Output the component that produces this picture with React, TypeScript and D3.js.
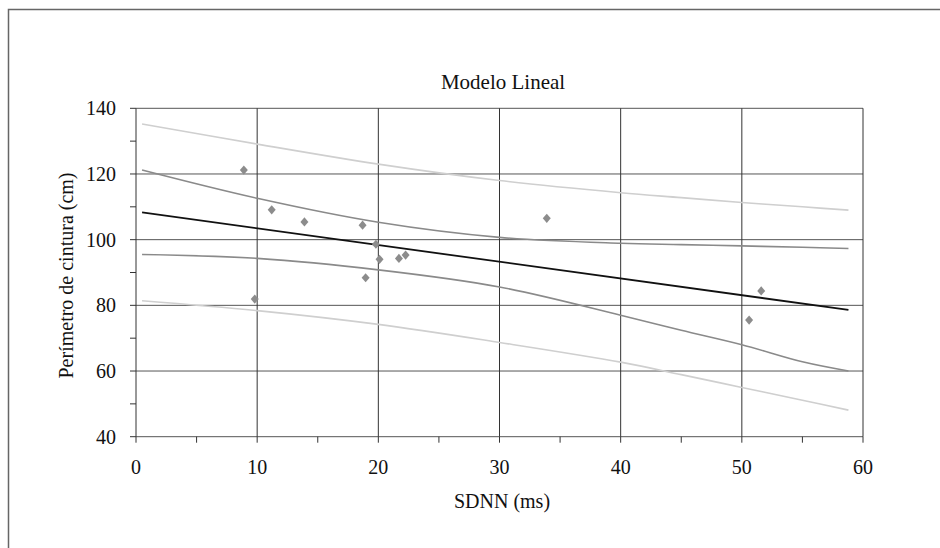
import React from 'react';
import * as d3 from 'd3';

// SDNN (ms) vs perímetro de cintura (cm)
const sdnn = [8.9, 9.8, 11.2, 13.9, 18.7, 18.95, 19.8, 20.1, 21.7, 22.25, 33.9, 50.6, 51.6];
const cintura = [121.2, 81.9, 109.1, 105.4, 104.4, 88.4, 98.6, 94.0, 94.3, 95.3, 106.5, 75.5, 84.4];

// regression line endpoints
const fitX = [0.5, 58.8];
const fitY = [108.3, 78.6];

// bands
const bandX = [0.5, 10, 20, 30, 40, 45, 50, 55, 58.8];
const predUpper = [135.2, 129.1, 123.0, 118.0, 114.3, 112.8, 111.3, 110.0, 109.0];
const confUpper = [121.2, 112.6, 105.3, 100.7, 98.9, 98.5, 98.1, 97.7, 97.3];
const confLower = [95.5, 94.3, 90.8, 85.6, 77.0, 72.4, 68.0, 62.8, 60.0];
const predLower = [81.4, 78.4, 74.2, 68.7, 62.7, 58.9, 55.0, 51.1, 48.1];

const xTicks = [0, 10, 20, 30, 40, 50, 60];
const xMinor = [5, 15, 25, 35, 45, 55];
const yTicks = [40, 60, 80, 100, 120, 140];
const yMinor = [50, 70, 90, 110, 130];

const W = 940;
const H = 548;

export default function App() {
  const x = d3.scaleLinear().domain([0, 60]).range([136, 863]);
  const y = d3.scaleLinear().domain([40, 140]).range([436.7, 108.3]);

  const curve = (ys: number[], xs: number[]) =>
    d3.line<number>()
      .x((_, i) => x(xs[i]))
      .y((d) => y(d))
      .curve(d3.curveCatmullRom.alpha(0.5))(ys) || '';

  const diamond = 'M0,-4.6L4,0L0,4.6L-4,0Z';

  return (
    <svg width={W} height={H} style={{ position: 'absolute', left: 0, top: 0, background: '#fff' }}>
      {/* outer frame */}
      <rect x={8.5} y={9.5} width={W + 20} height={H + 20} fill="none" stroke="#666" strokeWidth={1.5} />

      {/* grid */}
      {yTicks.map((t) => (
        <line key={'gy' + t} x1={x(0)} x2={x(60)} y1={y(t)} y2={y(t)} stroke="#555" strokeWidth={1} />
      ))}
      {xTicks.map((t) => (
        <line key={'gx' + t} x1={x(t)} x2={x(t)} y1={y(40)} y2={y(140)} stroke="#333" strokeWidth={1} />
      ))}

      {/* axis ticks */}
      {[...xTicks, ...xMinor].map((t) => (
        <line key={'tx' + t} x1={x(t)} x2={x(t)} y1={y(40)} y2={y(40) + 6} stroke="#333" />
      ))}
      {[...yTicks, ...yMinor].map((t) => (
        <line key={'ty' + t} x1={x(0) - 6} x2={x(0)} y1={y(t)} y2={y(t)} stroke="#333" />
      ))}

      <g style={{ fontFamily: '"Liberation Serif"' }} fill="#111">
        <text x={503} y={89} textAnchor="middle" fontSize={21}>Modelo Lineal</text>
        {xTicks.map((t) => (
          <text key={'lx' + t} x={x(t)} y={y(40) + 37} textAnchor="middle" fontSize={20}>{t}</text>
        ))}
        {yTicks.map((t) => (
          <text key={'ly' + t} x={x(0) - 20} y={y(t) + 7} textAnchor="end" fontSize={20}>{t}</text>
        ))}
        <text x={502} y={508} textAnchor="middle" fontSize={20}>SDNN (ms)</text>
        <text transform={`translate(73,${(y(40) + y(140)) / 2 + 3}) rotate(-90)`} textAnchor="middle" fontSize={20}>
          Perímetro de cintura (cm)
        </text>
      </g>

      {/* bands */}
      <path d={curve(predUpper, bandX)} fill="none" stroke="#cfcfcf" strokeWidth={1.6} />
      <path d={curve(predLower, bandX)} fill="none" stroke="#cfcfcf" strokeWidth={1.6} />
      <path d={curve(confUpper, bandX)} fill="none" stroke="#8a8a8a" strokeWidth={1.6} />
      <path d={curve(confLower, bandX)} fill="none" stroke="#8a8a8a" strokeWidth={1.6} />
      <path d={curve(fitY, fitX)} fill="none" stroke="#111" strokeWidth={1.8} />

      {/* points */}
      {sdnn.map((v, i) => (
        <path key={'p' + i} d={diamond} transform={`translate(${x(v)},${y(cintura[i])})`} fill="#8c8c8c" />
      ))}
    </svg>
  );
}
